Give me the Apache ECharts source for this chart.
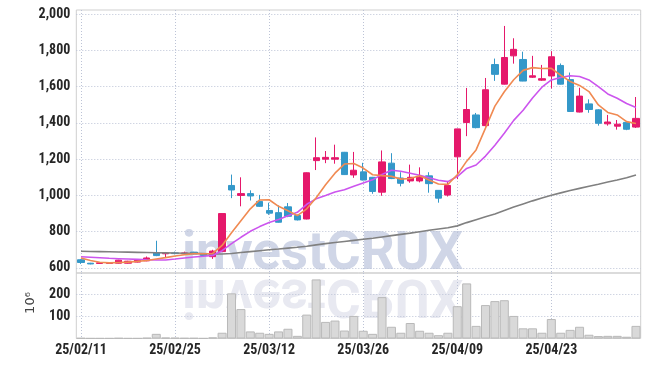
<!DOCTYPE html>
<html><head><meta charset="utf-8">
<script src="https://cdn.jsdelivr.net/npm/echarts@6/dist/echarts.min.js"></script>
<style>html,body{margin:0;padding:0;background:#fff}#c{width:650px;height:367px}</style>
</head><body><div id="c"></div>
<script>
const dates = ['25/02/11','25/02/12','25/02/13','25/02/14','25/02/17','25/02/18','25/02/19','25/02/20','25/02/21','25/02/24',
 '25/02/25','25/02/26','25/02/27','25/02/28','25/03/04','25/03/05','25/03/06','25/03/07','25/03/10','25/03/11',
 '25/03/12','25/03/13','25/03/14','25/03/17','25/03/18','25/03/19','25/03/20','25/03/21','25/03/24','25/03/25',
 '25/03/26','25/03/27','25/03/28','25/03/31','25/04/01','25/04/02','25/04/03','25/04/04','25/04/07','25/04/08',
 '25/04/09','25/04/10','25/04/11','25/04/14','25/04/15','25/04/16','25/04/17','25/04/18','25/04/21','25/04/22',
 '25/04/23','25/04/24','25/04/25','25/04/28','25/04/29','25/04/30','25/05/02','25/05/07','25/05/08','25/05/09'];
const opens = [645,626,625,625,626,626,632,639,683,678, 683,678,687,678,662,690,1055,1000,1010,967,
 917,905,937,889,870,1192,1200,1200,1238,1113, 1130,1100,1018,1178,1096,1080,1080,1108,1028,1002,
 1213,1402,1444,1385,1722,1614,1770,1750,1652,1636, 1659,1717,1639,1460,1505,1472,1395,1382,1403,1377];
const closes = [630,622,628,628,643,637,644,655,668,682, 679,683,677,669,693,900,1030,1010,997,940,
 902,852,885,865,1125,1208,1210,1208,1115,1139, 1085,1022,1185,1093,1067,1100,1100,1065,985,1055,
 1367,1474,1374,1583,1668,1761,1806,1631,1660,1644, 1765,1614,1463,1548,1474,1398,1405,1393,1365,1425];
const lows = [622,620,623,623,624,624,630,637,665,655, 675,672,675,666,650,688,985,940,972,937,
 893,850,880,862,868,1140,1178,1175,1113,1097, 1083,1009,998,1090,1050,1070,1072,1015,960,994,
 1090,1327,1370,1380,1632,1612,1727,1630,1648,1632, 1590,1612,1462,1458,1456,1385,1385,1363,1360,1372];
const highs = [648,628,631,630,645,639,646,663,750,688, 690,690,689,680,700,902,1115,1100,1028,1003,
 960,945,958,895,1127,1320,1245,1280,1240,1240, 1180,1102,1248,1233,1128,1170,1155,1128,1028,1080,
 1368,1593,1455,1648,1755,1935,1867,1793,1770,1720, 1796,1728,1678,1594,1530,1475,1444,1416,1405,1543];
const ma5 = [655,641,631,628,630,632,636,641,649,657, 666,673,678,678,680,724,794,860,926,975,
 976,940,915,889,926,987,1059,1123,1173,1176, 1151,1114,1109,1105,1090,1093,1109,1085,1063,1061,
 1114,1189,1251,1371,1493,1572,1638,1690,1705,1700, 1701,1663,1629,1607,1573,1499,1458,1444,1407,1397];
const ma10 = [662,659,656,653,651,649,647,645,644,644, 649,655,660,664,669,695,734,769,802,828,
 850,867,888,907,951,981,999,1019,1031,1051, 1069,1086,1116,1139,1133,1122,1111,1097,1084,1076,
 1104,1149,1168,1217,1277,1343,1414,1470,1538,1597, 1637,1651,1660,1656,1637,1600,1560,1536,1507,1485];
const ma60 = [692,691,690,689,688,687,686,685,684,683, 682,681,680,679,677,677,680,685,690,695,
 700,704,709,714,720,727,734,740,746,752, 758,764,771,778,785,792,800,808,815,822,
 832,850,866,882,898,917,936,953,970,986, 1001,1014,1027,1039,1051,1062,1074,1085,1098,1113];
const volumes = [2,1,1,1,2,1,1,3,21,4, 3,2,2,1,5,26,204,133,32,26,
 21,32,44,12,108,267,75,81,36,102, 35,21,187,53,26,70,35,26,15,26,
 146,249,57,151,169,173,102,46,46,26, 88,26,39,53,17,11,12,12,8,57];
const priceTicks = [600,800,1000,1200,1400,1600,1800,2000];
const volumeTicks = [100,200];

const candleData = opens.map((o,i)=>[o, closes[i], lows[i], highs[i]]);
const FONT = "'Roboto Condensed','Liberation Sans Narrow',sans-serif";
const gridLine = {show:true, lineStyle:{color:'#bcc3d6', type:[1,2], width:1}};
const vLine = {show:true, interval:9, alignWithLabel:true, lineStyle:{color:'#bcc3d6', type:[1,2], width:1}};
const labelStyle = {color:'#262626', fontFamily:FONT, fontWeight:'bold', fontSize:14};

const chart = echarts.init(document.getElementById('c'), null, {renderer:'canvas'});
chart.setOption({
  animation:false,
  backgroundColor:'#fff',
  grid:[
    {left:76.3, top:10, width:564.4, height:263, show:true, borderColor:'#cfcfcf', borderWidth:1, backgroundColor:'transparent'},
    {left:76.3, top:273, width:564.4, height:65.5, show:true, borderColor:'#cfcfcf', borderWidth:1, backgroundColor:'transparent'}
  ],
  graphic:[
    {type:'text', x:182, y:256, z:0, silent:true, style:{text:'investCRUX', x:0, y:0, verticalAlign:'middle', font:"bold 53px Roboto", fill:'#d0d6e7'}},
    {type:'text', x:182, y:293, scaleY:-1, z:0, silent:true, style:{text:'investCRUX', x:0, y:0, verticalAlign:'middle', font:"bold 53px Roboto", fill:'#e8e9f1'}},
    {type:'text', x:31, y:303, rotation:Math.PI/2, z:5, silent:true, style:{text:'10⁶', x:0, y:0, align:'center', verticalAlign:'middle', font:"13px 'DejaVu Sans'", fill:'#444'}}
  ],
  xAxis:[
    {type:'category', gridIndex:0, data:dates, boundaryGap:true, axisLabel:{show:false}, axisTick:{show:false},
     axisLine:{show:false}, splitLine:vLine},
    {type:'category', gridIndex:1, data:dates, boundaryGap:true, axisTick:{show:false},
     axisLine:{show:false}, splitLine:vLine,
     axisLabel:Object.assign({interval:9, margin:5}, labelStyle)}
  ],
  yAxis:[
    {type:'value', gridIndex:0, min:572, max:2023, scale:true,
     axisLine:{show:false}, axisTick:{show:false, customValues:priceTicks},
     axisLabel:Object.assign({customValues:priceTicks, margin:6, formatter:v=>v.toLocaleString('en-US')}, labelStyle),
     splitLine:gridLine},
    {type:'value', gridIndex:1, min:0, max:296,
     axisLine:{show:false}, axisTick:{show:false, customValues:volumeTicks},
     axisLabel:Object.assign({customValues:volumeTicks, margin:6}, labelStyle),
     splitLine:gridLine}
  ],
  series:[
    {type:'candlestick', xAxisIndex:0, yAxisIndex:0, data:candleData, barWidth:'72%', z:3,
     itemStyle:{color:'#e5186b', color0:'#3498c9', borderColor:'#e5186b', borderColor0:'#3498c9', borderWidth:1}},
    {type:'line', xAxisIndex:0, yAxisIndex:0, data:ma60, symbol:'none', z:4, lineStyle:{color:'#808080', width:1.6}},
    {type:'line', xAxisIndex:0, yAxisIndex:0, data:ma10, symbol:'none', z:4, lineStyle:{color:'#cc55ee', width:1.6}},
    {type:'line', xAxisIndex:0, yAxisIndex:0, data:ma5, symbol:'none', z:4, lineStyle:{color:'#f08a52', width:1.6}},
    {type:'bar', xAxisIndex:1, yAxisIndex:1, data:volumes, barCategoryGap:'4%', z:3,
     itemStyle:{color:'#d9d9d9', borderColor:'#b9b9b9', borderWidth:1}}
  ]
});
</script></body></html>
